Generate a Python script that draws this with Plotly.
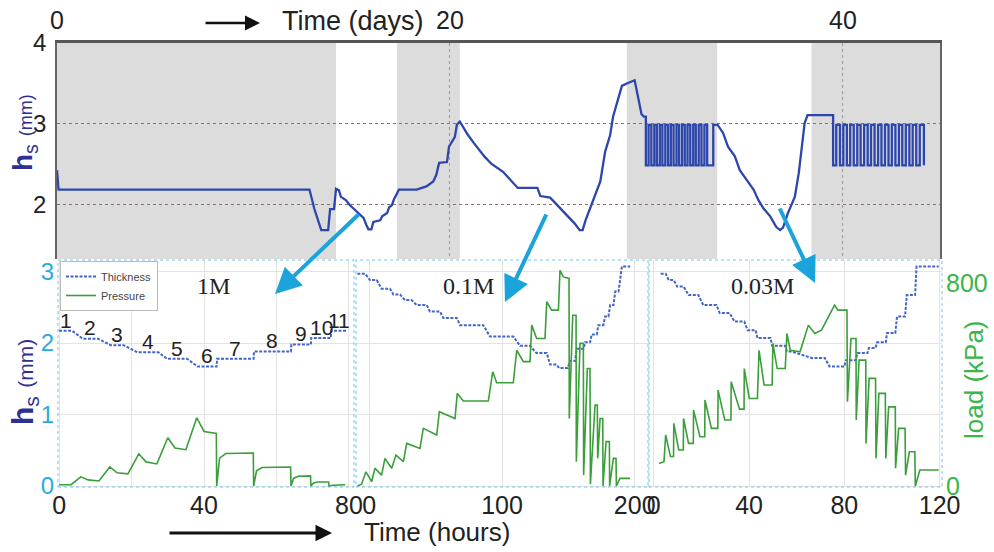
import plotly.graph_objects as go

W, H = 994, 552

# ---------------- data ----------------
# Top panel: hs (mm) over the whole experiment, time in days
top_seg1_days = [0.0, 0.08, 12.85, 13.1, 13.45, 13.8, 13.9, 14.1, 14.2, 14.35, 14.45, 14.7, 14.9, 15.15,
                 15.35, 15.6, 15.75, 15.85, 16.0, 16.1, 16.45, 16.55, 16.8, 16.9, 17.05, 17.15, 17.3, 17.4,
                 18.3, 18.8, 19.15, 19.3, 19.45, 19.85, 19.95, 20.25, 20.35, 20.5, 20.65, 20.9, 21.2, 21.5,
                 21.75, 22.1, 22.7, 23.0, 23.45, 24.45, 24.6, 25.1, 25.45, 25.95, 26.35, 26.6, 26.75, 26.9,
                 27.1, 27.4, 27.65, 27.9, 28.15, 28.3, 28.55, 28.75, 29.0, 29.4, 29.6, 29.75, 29.87]
top_seg1_hs = [2.43, 2.19, 2.19, 1.95, 1.69, 1.69, 1.95, 1.95, 2.20, 2.18, 2.10, 2.06, 2.00, 1.94,
               1.90, 1.84, 1.75, 1.70, 1.70, 1.79, 1.81, 1.86, 1.90, 1.97, 2.00, 2.07, 2.14, 2.19,
               2.19, 2.23, 2.29, 2.37, 2.52, 2.53, 2.72, 2.84, 2.99, 3.03, 2.97, 2.87, 2.77, 2.67,
               2.60, 2.51, 2.41, 2.33, 2.21, 2.21, 2.11, 2.09, 2.00, 1.88, 1.77, 1.69, 1.69, 1.81,
               1.94, 2.11, 2.29, 2.66, 2.86, 3.09, 3.30, 3.47, 3.50, 3.54, 3.30, 3.12, 3.09]
osc_hi = 2.99
osc_lo = 2.49
osc1_switch_days = [29.97, 30.11, 30.25, 30.40, 30.53, 30.68, 30.81, 30.96, 31.10, 31.24, 31.38, 31.53,
                    31.66, 31.81, 31.95, 32.09, 32.23, 32.38, 32.51, 32.66, 32.80, 32.95, 33.09, 33.40]
top_seg2_days = [33.62, 33.9, 34.15, 34.5, 34.75, 35.1, 35.45, 35.7, 35.95, 36.3, 36.6, 36.8, 36.95,
                 37.2, 37.4, 37.55, 37.75, 37.9, 38.05, 38.2, 39.42]
top_seg2_hs = [2.99, 2.89, 2.72, 2.60, 2.43, 2.31, 2.19, 2.06, 1.96, 1.86, 1.73, 1.69, 1.72,
               1.90, 2.02, 2.10, 2.39, 2.68, 3.01, 3.11, 3.11]
osc2_switch_days = [39.50, 39.66, 39.85, 40.02, 40.20, 40.37, 40.55, 40.73, 40.90, 41.08, 41.26, 41.43,
                    41.61, 41.79, 41.96, 42.14, 42.32, 42.49, 42.67, 42.85, 43.02, 43.20, 43.38, 43.55,
                    43.73, 43.91, 44.12]
shade_start_days = [0.0, 17.3, 29.0, 38.4]
shade_end_days = [14.2, 20.5, 33.6, 44.94]

# Bottom panels: thickness plateaus (hours, mm)
p1_start = [0, 6.5, 14.2, 21.6, 29.8, 38.3, 43.6, 53.8, 64.1, 69.6, 75.1]
p1_end = [3.6, 10.7, 17.8, 27.4, 35.3, 43.5, 53.7, 64.0, 69.5, 75.0, 79.4]
p1_level = [2.17, 2.06, 1.97, 1.87, 1.78, 1.67, 1.78, 1.88, 1.98, 2.07, 2.17]
step_labels = ['1', '2', '3', '4', '5', '6', '7', '8', '9', '10', '11']

p2_start = [-9.0, 0.5, 9.3, 18.1, 26.9, 35.7, 45.7, 55.8, 68.4, 91.0, 113.6, 126.0, 136.2, 143.0,
            151.3, 156.3, 162.6, 167.6, 172.6, 177.6, 181.5, 185.3, 190.3]
p2_end = [-3.2, 5.6, 15.6, 23.1, 31.9, 43.2, 53.3, 65.9, 85.9, 108.6, 121.0, 133.7, 141.0, 149.5,
          155.0, 161.4, 166.4, 171.4, 176.4, 180.2, 184.0, 187.8, 196.6]
p2_level = [2.97, 2.88, 2.76, 2.68, 2.60, 2.53, 2.44, 2.35, 2.25, 2.09, 1.96, 1.86, 1.70, 1.65,
            1.75, 1.92, 2.01, 2.12, 2.25, 2.37, 2.53, 2.72, 3.07]

p3_start = [2.9, 6.3, 9.8, 14.6, 20.8, 27.7, 33.9, 39.4, 43.5, 49.7, 55.9, 66.3, 73.8, 80.7,
            85.5, 90.3, 93.8, 97.9, 102.1, 106.2, 110.3]
p3_end = [5.0, 8.4, 12.5, 18.7, 26.3, 31.8, 38.0, 42.8, 49.0, 55.2, 58.0, 71.8, 80.0, 84.8,
          89.7, 93.1, 97.4, 101.4, 105.5, 109.7, 119.6]
p3_level = [2.97, 2.88, 2.79, 2.67, 2.53, 2.42, 2.30, 2.18, 2.07, 1.96, 1.88, 1.79, 1.67, 1.76,
            1.86, 1.93, 2.01, 2.14, 2.37, 2.67, 3.07]

# Pressure (hours, kPa)
p1_pressure = [(0, 5), (3.3, 5), (6.0, 36), (8.0, 24), (11.0, 20), (14.0, 75), (16.0, 52), (19.0, 48),
               (22.0, 127), (24.0, 95), (27.0, 87), (30.0, 190), (32.0, 150), (35.0, 143), (38.0, 269),
               (40.0, 215), (43.4, 207), (43.5, 0), (44.3, 110), (46.0, 128), (53.6, 130), (53.7, 0),
               (54.5, 60), (56.0, 73), (63.9, 75), (64.0, 0), (64.7, 30), (66.0, 38), (69.4, 40),
               (69.5, 0), (70.2, 12), (71.5, 16), (74.4, 16), (74.5, 0), (75.5, 3), (79.0, 5)]
p2_pressure = [(-9.0, 0), (-5.8, 7), (-2.5, 56), (1.8, 17), (4.3, 70), (9.3, 43), (11.8, 109), (16.9, 70),
               (20.1, 122), (25.7, 96), (28.2, 168), (38.2, 148), (40.7, 227), (50.8, 201), (52.8, 293),
               (64.6, 266), (66.3, 365), (70.9, 335), (89.7, 335), (93.0, 450), (96.0, 407), (108.5, 407),
               (111.1, 535), (116.1, 490), (121.1, 490), (122.4, 634), (126.1, 581), (132.4, 581),
               (133.7, 726), (137.4, 693), (142.5, 693), (143.7, 850), (146.2, 824), (150.5, 818),
               (150.7, 266), (153.3, 673), (155.8, 673), (156.0, 96), (158.8, 562), (161.3, 562),
               (161.5, 43), (164.3, 463), (166.3, 463), (166.6, 7), (170.1, 319), (171.8, 319),
               (172.1, 109), (173.9, 266), (175.9, 266), (176.1, 0), (178.4, 175), (180.9, 175),
               (181.1, 0), (183.9, 109), (185.9, 109), (186.2, 0), (188.9, 30), (196.5, 30)]
p3_pressure = [(2.2, 89), (4.3, 96), (5.0, 201), (7.0, 116), (8.3, 116), (8.4, 247), (10.5, 142), (12.4, 142),
               (12.5, 266), (14.6, 168), (16.6, 168), (16.7, 299), (19.4, 194), (21.4, 194), (21.5, 339),
               (24.2, 227), (26.9, 227), (27.0, 378), (29.8, 260), (32.4, 260), (32.5, 411), (36.0, 303),
               (37.9, 303), (38.0, 463), (40.1, 345), (43.5, 345), (44.2, 535), (46.3, 398), (49.7, 398),
               (50.0, 562), (51.8, 463), (55.2, 463), (55.9, 601), (57.3, 535), (61.4, 529), (64.9, 634),
               (67.6, 601), (70.4, 614), (75.9, 713), (77.3, 693), (81.1, 693), (81.3, 332), (82.8, 581),
               (84.9, 581), (85.0, 260), (86.2, 496), (89.0, 496), (89.1, 168), (90.4, 424), (93.1, 424),
               (93.3, 109), (94.5, 365), (97.2, 365), (97.4, 109), (98.6, 312), (101.4, 312), (101.5, 70),
               (102.8, 227), (105.5, 227), (105.7, 43), (107.3, 135), (109.6, 135), (109.8, 0),
               (111.7, 63), (119.6, 63)]

# ---------------- helpers ----------------
def square_wave(switch_days, level_before, first_level, other_level):
    xs, ys = [], []
    cur = level_before
    for i, t in enumerate(switch_days):
        new = first_level if i % 2 == 0 else other_level
        xs += [t, t]
        ys += [cur, new]
        cur = new
    return xs, ys


def plateaus(starts, ends, levels):
    xs, ys = [], []
    for s, e, v in zip(starts, ends, levels):
        xs += [s, e]
        ys += [v, v]
    return xs, ys


o1x, o1y = square_wave(osc1_switch_days, top_seg1_hs[-1], osc_lo, osc_hi)
o2x, o2y = square_wave(osc2_switch_days, top_seg2_hs[-1], osc_lo, osc_hi)
top_x = top_seg1_days + o1x + top_seg2_days + o2x
top_y = top_seg1_hs + o1y + top_seg2_hs + o2y

FONT = "Arial, Liberation Sans, sans-serif"
SERIF = "Times New Roman, Liberation Serif, serif"
NAVY = "#2E3192"
LBLUE = "#29ABE2"
GREEN_T = "#39B54A"
GREEN = "#3A9E3A"
THICK = "#4266C6"
TOPBLUE = "#2C46AC"

fig = go.Figure()
fig.add_trace(go.Scatter(x=top_x, y=top_y, mode="lines", line=dict(color=TOPBLUE, width=2.3),
                         xaxis="x", yaxis="y", showlegend=False, hoverinfo="skip"))

panels = [(p1_start, p1_end, p1_level, p1_pressure, "x2", "y2", "y5"),
          (p2_start, p2_end, p2_level, p2_pressure, "x3", "y3", "y6"),
          (p3_start, p3_end, p3_level, p3_pressure, "x4", "y4", "y7")]
for i, (st, en, lv, pr, xa, ya, ya2) in enumerate(panels):
    tx, ty = plateaus(st, en, lv)
    fig.add_trace(go.Scatter(x=tx, y=ty, mode="lines", name="Thickness",
                             line=dict(color=THICK, width=2, dash="3px,1.5px"),
                             xaxis=xa, yaxis=ya, showlegend=(i == 0)))
    fig.add_trace(go.Scatter(x=[p[0] for p in pr], y=[p[1] for p in pr], mode="lines", name="Pressure",
                             line=dict(color=GREEN, width=1.6),
                             xaxis=xa, yaxis=ya2, showlegend=(i == 0)))

BOT_DOM = [1 - 487 / H, 1 - 260 / H]
MM_RANGE = [-0.014, 3.161]
KPA_RANGE = [-3.9, 890.6]
GRID = "#E3E3E3"

fig.update_layout(
    width=W, height=H, margin=dict(l=0, r=0, t=0, b=0, autoexpand=False),
    paper_bgcolor="white", plot_bgcolor="white",
    font=dict(family=FONT, color="#222"),
    xaxis=dict(domain=[57 / W, 940 / W], range=[0, 44.94], side="top", anchor="y",
               tickvals=[0, 20, 40], showgrid=True, gridcolor="#999999", griddash="dot",
               showline=True, linecolor="#555555", linewidth=3, zeroline=False,
               tickfont=dict(size=25, color="#222"), ticklabelstandoff=1),
    yaxis=dict(domain=[1 - 259 / H, 1 - 43 / H], range=[1.333, 4], anchor="x",
               tickvals=[2, 3, 4], showgrid=True, gridcolor="#8A7468", griddash="dot",
               showline=True, linecolor="#666666", linewidth=1.5, mirror=True, zeroline=False,
               tickfont=dict(size=24, color="#222"), ticklabelstandoff=4),
    xaxis2=dict(domain=[58 / W, 354 / W], range=[-0.3, 81.4], anchor="y2",
                tickvals=[0, 20, 40, 60, 80], ticktext=["0", "", "40", "", "80"],
                showgrid=True, gridcolor=GRID, zeroline=False, showline=False,
                tickfont=dict(size=25, color="#222"), ticklabelstandoff=1),
    yaxis2=dict(domain=BOT_DOM, range=MM_RANGE, anchor="x2", tickvals=[0, 1, 2, 3],
                showgrid=True, gridcolor=GRID, zeroline=False,
                tickfont=dict(size=24, color=LBLUE), ticklabelstandoff=3),
    xaxis3=dict(domain=[356 / W, 648 / W], range=[-10, 210], anchor="y3",
                tickvals=[0, 100, 200], showgrid=True, gridcolor=GRID, zeroline=False,
                tickfont=dict(size=25, color="#222"), ticklabelstandoff=1),
    yaxis3=dict(domain=BOT_DOM, range=MM_RANGE, anchor="x3", tickvals=[0, 1, 2, 3],
                showgrid=True, gridcolor=GRID, zeroline=False, showticklabels=False),
    xaxis4=dict(domain=[649 / W, 942 / W], range=[-2, 121], anchor="y4",
                tickvals=[0, 40, 80, 120], showgrid=True, gridcolor=GRID, zeroline=False,
                tickfont=dict(size=25, color="#222"), ticklabelstandoff=1),
    yaxis4=dict(domain=BOT_DOM, range=MM_RANGE, anchor="x4", tickvals=[0, 1, 2, 3],
                showgrid=True, gridcolor=GRID, zeroline=False, showticklabels=False),
    yaxis5=dict(overlaying="y2", anchor="x2", range=KPA_RANGE, showgrid=False,
                zeroline=False, showticklabels=False),
    yaxis6=dict(overlaying="y3", anchor="x3", range=KPA_RANGE, showgrid=False,
                zeroline=False, showticklabels=False),
    yaxis7=dict(overlaying="y4", anchor="x4", side="right", range=KPA_RANGE, tickvals=[0, 800],
                showgrid=False, zeroline=False, tickfont=dict(size=25, color=GREEN_T),
                ticklabelstandoff=3),
    legend=dict(x=60 / W, y=1 - 261 / H, xanchor="left", yanchor="top", bgcolor="white",
                bordercolor="#BBBBBB", borderwidth=1, font=dict(size=11, color="#444", family=FONT),
                itemwidth=30, tracegroupgap=0),
)
fig.update_xaxes(automargin=False)
fig.update_yaxes(automargin=False)

shapes = []
for s, e in zip(shade_start_days, shade_end_days):
    shapes.append(dict(type="rect", xref="x", yref="y domain", x0=s, x1=e, y0=0, y1=1,
                       fillcolor="#DCDCDC", line=dict(width=0), layer="below"))
for xa, ya in [("x2", "y2"), ("x3", "y3"), ("x4", "y4")]:
    shapes.append(dict(type="rect", xref=xa + " domain", yref=ya + " domain", x0=0, x1=1, y0=0, y1=1,
                       line=dict(color="#6EC6EE", width=1, dash="dot"), layer="above"))
fig.update_layout(shapes=shapes)

C = dict(xref="paper", yref="paper", xanchor="center", yanchor="middle")
ann = []
# axis titles and arrows
ann.append(dict(text="Time (days)", x=353 / W, y=1 - 21 / H, showarrow=False,
                font=dict(size=27, color="#222"), **C))
ann.append(dict(text="", x=260 / W, y=1 - 23 / H, showarrow=True,
                ax=-56, ay=0, axref="pixel", ayref="pixel", arrowhead=2, arrowsize=1.2,
                arrowwidth=2.5, arrowcolor="#111", **C))
ann.append(dict(text="Time (hours)", x=437 / W, y=1 - 532 / H, showarrow=False,
                font=dict(size=26, color="#222"), **C))
ann.append(dict(text="", x=332 / W, y=1 - 533 / H, showarrow=True,
                ax=-164, ay=0, axref="pixel", ayref="pixel", arrowhead=2, arrowsize=1.1,
                arrowwidth=3, arrowcolor="#111", **C))
ann.append(dict(text="<b>h</b><sub>s</sub> <span style='font-size:18px'>(mm)</span>",
                x=25 / W, y=1 - 133 / H, textangle=-90, showarrow=False,
                font=dict(size=28, color=NAVY), **C))
ann.append(dict(text="<b>h</b><sub>s</sub> <span style='font-size:21px'>(mm)</span>",
                x=24 / W, y=1 - 382 / H, textangle=-90, showarrow=False,
                font=dict(size=30, color=NAVY), **C))
ann.append(dict(text="load (kPa)", x=974 / W, y=1 - 380 / H, textangle=-90, showarrow=False,
                font=dict(size=26, color=GREEN_T), **C))
# concentration labels
for txt, xp in [("1M", 213), ("0.1M", 468), ("0.03M", 762)]:
    ann.append(dict(text=txt, x=xp / W, y=1 - 286 / H, showarrow=False,
                    font=dict(size=24, color="#222", family=SERIF), **C))
# step numbers above plateaus in panel 1
for s, e, v, lab in zip(p1_start, p1_end, p1_level, step_labels):
    ann.append(dict(text=lab, x=(s + e) / 2, y=v + 0.15, xref="x2", yref="y2", showarrow=False,
                    xanchor="center", yanchor="middle", font=dict(size=21, color="#222")))
# cyan arrows from top panel to zoomed panels
for hx, hy, dx, dy in [(275, 294, 85, -81), (505, 302, 42, -89), (815, 283, -36, -76)]:
    ann.append(dict(text="", x=hx / W, y=1 - hy / H, showarrow=True,
                    ax=dx, ay=dy, axref="pixel", ayref="pixel", arrowhead=2, arrowsize=1.3,
                    arrowwidth=4, arrowcolor="#1BA3DC", **C))
fig.update_layout(annotations=ann)

fig.write_html("out.html", config={"displayModeBar": False},
               post_script="document.body.style.margin='0';")
